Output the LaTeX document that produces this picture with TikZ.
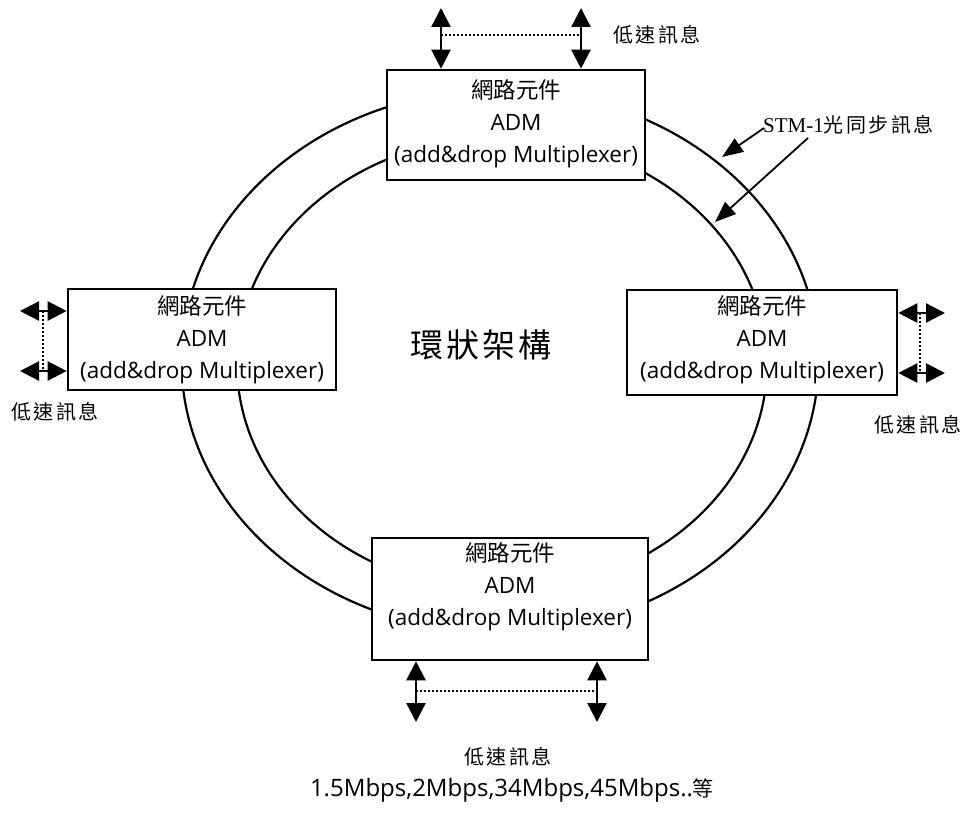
\documentclass[tikz,border=0pt]{standalone}
\usepackage{fontspec}
\setmainfont{Open Sans}
\newfontfamily\cjk{Noto Sans CJK TC}
\newfontfamily\cjksp{Noto Sans CJK TC}[LetterSpace=12]
\newfontfamily\cjkbig{Noto Sans CJK TC}[LetterSpace=10]
\newfontfamily\serifl{Liberation Serif}
\usetikzlibrary{arrows.meta}
\begin{document}
\begin{tikzpicture}[x=1pt,y=-1pt,
  ring/.style={line width=2.2pt},
  adm/.style={draw, line width=2.6pt, fill=white, inner sep=0pt},
  admtext/.style={align=center, inner sep=0pt, font=\fontsize{22.5}{32}\selectfont},
  lowsig/.style={font=\cjksp\fontsize{20}{20}\selectfont, inner sep=0pt},
  dbl/.style={line width=2.4pt, {Triangle[width=19pt,length=19pt]}-{Triangle[width=19pt,length=19pt]}},
  dots/.style={line width=2pt, dash pattern=on 2pt off 2pt},
  ptr/.style={line width=1.8pt, -{Triangle[width=16pt,length=21pt]}}
]
\useasboundingbox (0,0) rectangle (972,816);

% rings
\draw[ring] (500,361) ellipse [x radius=318.5pt, y radius=271.5pt];
\draw[ring] (502,364) ellipse [x radius=265pt, y radius=227pt];

% boxes
\node[adm, minimum width=258pt, minimum height=110pt] (bT) at (516,125) {};
\node[adm, minimum width=268pt, minimum height=101pt] (bL) at (202,339.5) {};
\node[adm, minimum width=270pt, minimum height=105pt] (bR) at (762,342.5) {};
\node[adm, minimum width=276pt, minimum height=122pt] (bB) at (510,599) {};

\node[admtext] (tT) at (516,124) {{\cjk\fontsize{22.5}{22.5}\selectfont 網路元件}\\ADM\\(add\&drop Multiplexer)};
\node[admtext] (tL) at (202,340) {{\cjk\fontsize{22.5}{22.5}\selectfont 網路元件}\\ADM\\(add\&drop Multiplexer)};
\node[admtext] (tR) at (762,340) {{\cjk\fontsize{22.5}{22.5}\selectfont 網路元件}\\ADM\\(add\&drop Multiplexer)};
\node[admtext] (tB) at (510,587) {{\cjk\fontsize{22.5}{22.5}\selectfont 網路元件}\\ADM\\(add\&drop Multiplexer)};

% center title
\node[inner sep=0pt, font=\cjkbig\fontsize{33}{33}\selectfont] (title) at (481,345) {環狀架構};

% top low-speed
\coordinate (tA) at (441,8);
\coordinate (tB) at (581,8);
\coordinate (tDa) at (441,35);
\coordinate (tDb) at (581,35);
\draw[dbl] (tA) -- (tA |- bT.north);
\draw[dbl] (tB) -- (tB |- bT.north);
\draw[dots] (tDa) -- (tDb);
\node[lowsig] (lT) at (657,35) {低速訊息};

% left low-speed
\coordinate (lA) at (20,311);
\coordinate (lB) at (20,371);
\coordinate (lDa) at (43,311);
\coordinate (lDb) at (43,371);
\draw[dbl] (lA) -- (lA -| bL.west);
\draw[dbl] (lB) -- (lB -| bL.west);
\draw[dots] (lDa) -- (lDb);
\node[lowsig] (lL) at (55,412) {低速訊息};

% right low-speed
\coordinate (rA) at (945,313);
\coordinate (rB) at (945,373);
\coordinate (rDa) at (920,313);
\coordinate (rDb) at (920,373);
\draw[dbl] (rA -| bR.east) -- (rA);
\draw[dbl] (rB -| bR.east) -- (rB);
\draw[dots] (rDa) -- (rDb);
\node[lowsig] (lR) at (918,425) {低速訊息};

% bottom low-speed
\coordinate (bA) at (416,722);
\coordinate (bBc) at (597,722);
\coordinate (bDa) at (416,691);
\coordinate (bDb) at (597,691);
\draw[dbl] (bA |- bB.south) -- (bA);
\draw[dbl] (bBc |- bB.south) -- (bBc);
\draw[dots] (bDa) -- (bDb);
\node[lowsig] (lB2) at (508,757) {低速訊息};

\node[inner sep=0pt, font=\fontsize{24}{24}\selectfont] (rates) at (512,790) {1.5Mbps,2Mbps,34Mbps,45Mbps..{\cjk\fontsize{21}{21}\selectfont 等}};

% STM-1 label and pointers
\node[inner sep=0pt, anchor=west, font=\fontsize{20}{20}\selectfont] (stm) at (763,125) {{\serifl\fontsize{21}{21}\selectfont STM-1}{\cjksp 光同步訊息}};
\coordinate (s1) at (764,128);
\coordinate (s2) at (808,138);
\coordinate (o1) at (722,157);
\coordinate (o2) at (715,222);
\draw[ptr] (s1) -- (o1);
\draw[ptr] (s2) -- (o2);
\end{tikzpicture}
\end{document}
